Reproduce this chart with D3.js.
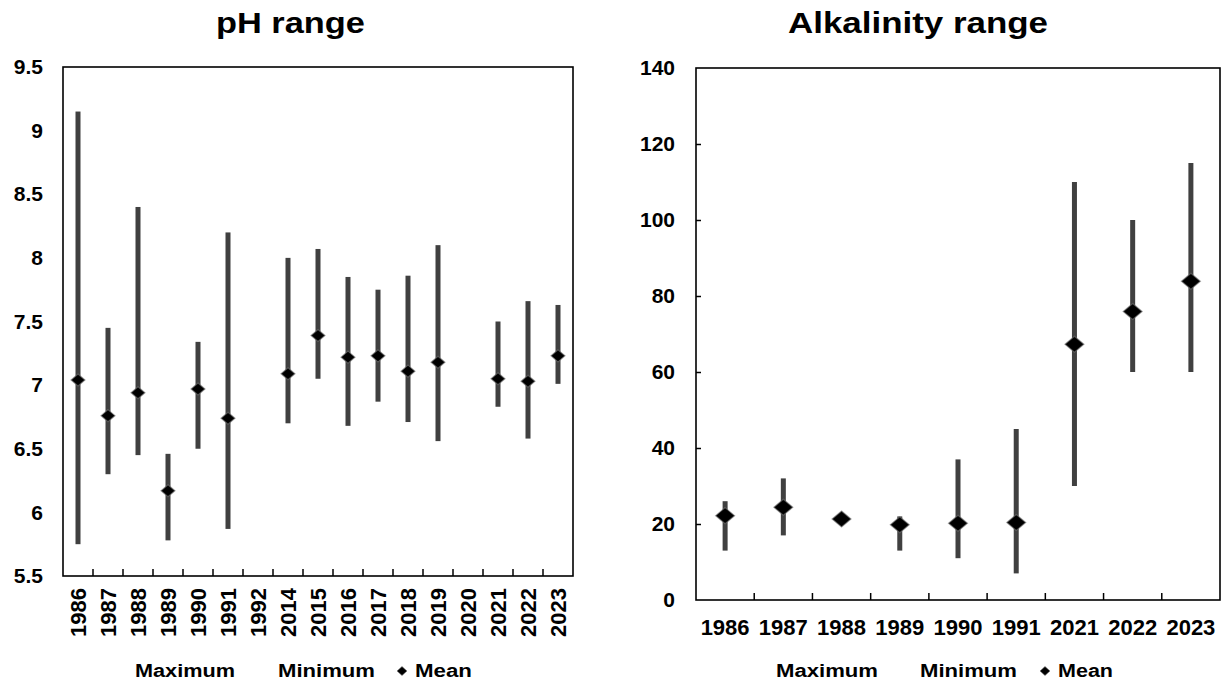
<!DOCTYPE html>
<html>
<head>
<meta charset="utf-8">
<script src="https://cdn.jsdelivr.net/npm/d3@7"></script>
<style>
  html, body { margin: 0; padding: 0; background: #fff; }
  svg { display: block; font-family: "Liberation Sans", Arial, sans-serif; font-weight: bold; }
</style>
</head>
<body>
<svg id="chart" width="1222" height="682"></svg>
<script>
// ---- pH data ----
const phYears = ["1986","1987","1988","1989","1990","1991","1992","2014","2015","2016","2017","2018","2019","2020","2021","2022","2023"];
const phMax  = [9.15, 7.45, 8.40, 6.46, 7.34, 8.20, null, 8.00, 8.07, 7.85, 7.75, 7.86, 8.10, null, 7.50, 7.66, 7.63];
const phMin  = [5.75, 6.30, 6.45, 5.78, 6.50, 5.87, null, 6.70, 7.05, 6.68, 6.87, 6.71, 6.56, null, 6.83, 6.58, 7.01];
const phMean = [7.04, 6.76, 6.94, 6.17, 6.97, 6.74, null, 7.09, 7.39, 7.22, 7.23, 7.11, 7.18, null, 7.05, 7.03, 7.23];
const phTicks = [5.5, 6, 6.5, 7, 7.5, 8, 8.5, 9, 9.5];

// ---- Alkalinity data ----
const alkYears = ["1986","1987","1988","1989","1990","1991","2021","2022","2023"];
const alkMax  = [26, 32, 22, 22, 37, 45, 110, 100, 115];
const alkMin  = [13, 17, 21, 13, 11, 7, 30, 60, 60];
const alkMean = [22.2, 24.4, 21.3, 19.8, 20.2, 20.4, 67.3, 75.9, 83.9];
const alkTicks = [0, 20, 40, 60, 80, 100, 120, 140];

const legendLabels = ["Maximum", "Minimum", "Mean"];

const svg = d3.select("#chart");

function diamondPath(cx, cy, w, h) {
  return `M${cx},${cy - h / 2}L${cx + w / 2},${cy}L${cx},${cy + h / 2}L${cx - w / 2},${cy}Z`;
}

function drawPanel(cfg) {
  const g = svg.append("g");
  const x = d3.scaleBand().domain(cfg.cats).range([cfg.left, cfg.right]).paddingInner(0).paddingOuter(0);
  const y = d3.scaleLinear().domain([cfg.ticks[0], cfg.ticks[cfg.ticks.length - 1]]).range([cfg.bottom, cfg.top]);

  // y axis labels (and ticks)
  const yAxis = d3.axisLeft(y).tickValues(cfg.ticks).tickFormat(d => String(d))
    .tickSizeInner(cfg.yTick ? -5 : 0).tickSizeOuter(0).tickPadding(cfg.yPad);
  const ya = g.append("g").attr("transform", `translate(${cfg.left},0)`).call(yAxis);
  ya.select(".domain").remove();
  ya.selectAll(".tick line").attr("stroke", "#000").attr("stroke-width", 1.5);
  ya.selectAll(".tick text").attr("fill", "#000").style("font-size", "21px").style("font-weight", "bold")
    .style("font-family", '"Liberation Sans", Arial, sans-serif');
  ya.selectAll(".tick").filter(d => d === cfg.ticks[0] || d === cfg.ticks[cfg.ticks.length - 1]).select("line").remove();

  // x category boundary ticks (inward)
  g.selectAll("line.xtick").data(cfg.cats.slice(1)).enter().append("line")
    .attr("x1", d => x(d)).attr("x2", d => x(d))
    .attr("y1", cfg.bottom).attr("y2", cfg.bottom - 7)
    .attr("stroke", "#000").attr("stroke-width", 1.5);

  // x labels
  if (cfg.rotateLabels) {
    g.selectAll("text.xl").data(cfg.cats).enter().append("text")
      .attr("transform", d => `translate(${x(d) + x.bandwidth() / 2},${cfg.bottom + 12}) rotate(-90)`)
      .attr("text-anchor", "end").attr("dy", "0.36em")
      .style("font-size", "22px").attr("fill", "#000").text(d => d);
  } else {
    g.selectAll("text.xl").data(cfg.cats).enter().append("text")
      .attr("x", d => x(d) + x.bandwidth() / 2).attr("y", cfg.bottom + 35)
      .attr("text-anchor", "middle")
      .style("font-size", "22px").attr("fill", "#000").text(d => d);
  }

  // range bars
  const rows = cfg.cats.map((c, i) => ({ c, max: cfg.max[i], min: cfg.min[i], mean: cfg.mean[i] }))
    .filter(r => r.max != null);
  g.selectAll("rect.bar").data(rows).enter().append("rect")
    .attr("x", r => x(r.c) + x.bandwidth() / 2 - 2.5)
    .attr("width", 5)
    .attr("y", r => y(r.max))
    .attr("height", r => y(r.min) - y(r.max))
    .attr("fill", "#404040");

  // mean diamonds
  g.selectAll("path.mean").data(rows).enter().append("path")
    .attr("d", r => diamondPath(x(r.c) + x.bandwidth() / 2, y(r.mean), cfg.dw, cfg.dh))
    .attr("fill", "#000").attr("stroke", "#777").attr("stroke-width", 1.2).attr("stroke-opacity", 0.6);

  // frame
  g.append("rect").attr("x", cfg.left).attr("y", cfg.top)
    .attr("width", cfg.right - cfg.left).attr("height", cfg.bottom - cfg.top)
    .attr("fill", "none").attr("stroke", "#000").attr("stroke-width", 1.6);

  // title
  g.append("text").attr("x", cfg.titleX).attr("y", 33).attr("text-anchor", "middle")
    .style("font-size", "30px").attr("fill", "#000")
    .attr("textLength", cfg.titleLen).attr("lengthAdjust", "spacingAndGlyphs")
    .text(cfg.title);

  // legend
  const L = cfg.legend;
  g.append("text").attr("x", L[0]).attr("y", 677).style("font-size", "18px").attr("fill", "#000")
    .attr("textLength", L[1] - L[0]).attr("lengthAdjust", "spacingAndGlyphs").text(legendLabels[0]);
  g.append("text").attr("x", L[2]).attr("y", 677).style("font-size", "18px").attr("fill", "#000")
    .attr("textLength", L[3] - L[2]).attr("lengthAdjust", "spacingAndGlyphs").text(legendLabels[1]);
  g.append("path").attr("d", diamondPath(L[4], 671, 10, 9)).attr("fill", "#000")
    .attr("stroke", "#777").attr("stroke-width", 1).attr("stroke-opacity", 0.6);
  g.append("text").attr("x", L[5]).attr("y", 677).style("font-size", "18px").attr("fill", "#000")
    .attr("textLength", L[6] - L[5]).attr("lengthAdjust", "spacingAndGlyphs").text(legendLabels[2]);
}

drawPanel({
  cats: phYears, max: phMax, min: phMin, mean: phMean, ticks: phTicks,
  left: 63, right: 573, top: 67, bottom: 576,
  yTick: false, yPad: 20, rotateLabels: true, dw: 14, dh: 12,
  title: "pH range", titleX: 290.5, titleLen: 149,
  legend: [135, 235, 278, 375, 402, 415, 472]
});

drawPanel({
  cats: alkYears, max: alkMax, min: alkMin, mean: alkMean, ticks: alkTicks,
  left: 696, right: 1220, top: 68, bottom: 600,
  yTick: true, yPad: 21, rotateLabels: false, dw: 19, dh: 16,
  title: "Alkalinity range", titleX: 918, titleLen: 260,
  legend: [776, 878, 920, 1017, 1045, 1058, 1113]
});
</script>
</body>
</html>
